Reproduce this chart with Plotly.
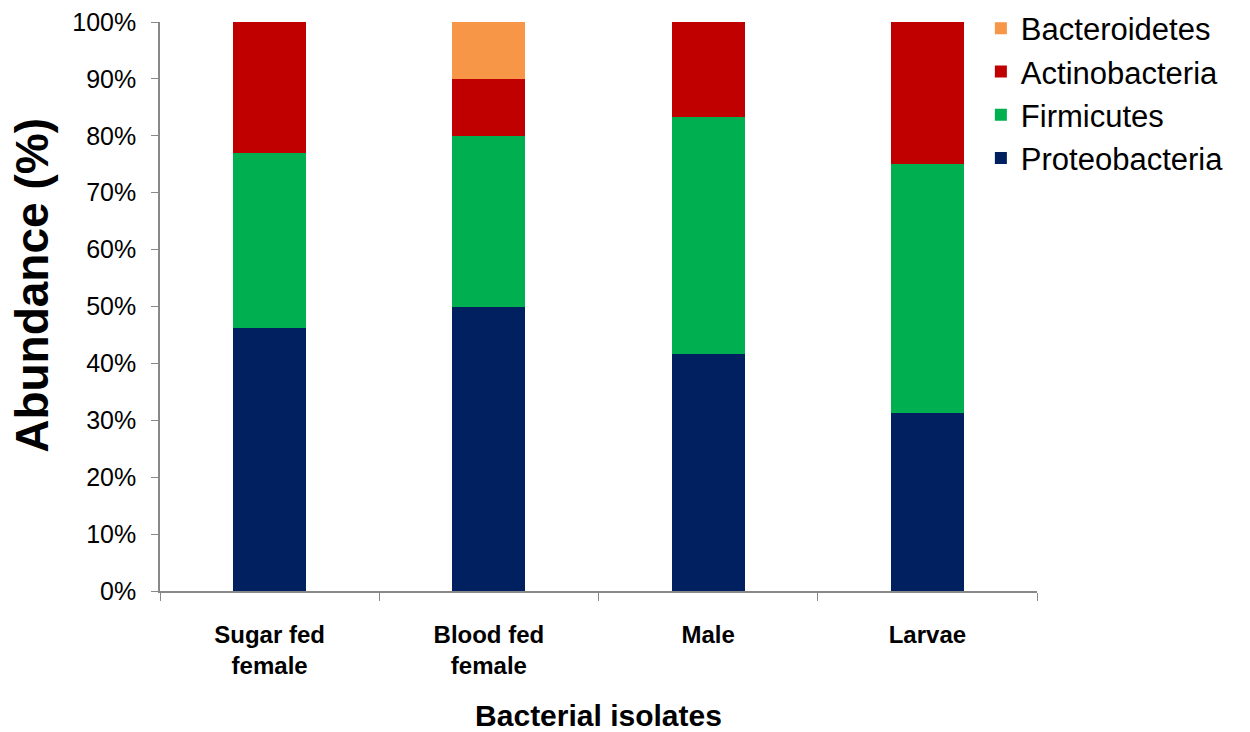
import plotly.graph_objects as go

categories = ["Sugar fed<br>female", "Blood fed<br>female", "Male", "Larvae"]
proteobacteria = [46.15, 50.0, 41.67, 31.25]
firmicutes = [30.77, 30.0, 41.67, 43.75]
actinobacteria = [23.08, 10.0, 16.67, 25.0]
bacteroidetes = [0.0, 10.0, 0.0, 0.0]
y_ticks = [0, 10, 20, 30, 40, 50, 60, 70, 80, 90, 100]
y_tick_labels = [f"{v}%" for v in y_ticks]

series = [
    ("Proteobacteria", proteobacteria, "#002060"),
    ("Firmicutes", firmicutes, "#00B050"),
    ("Actinobacteria", actinobacteria, "#C00000"),
    ("Bacteroidetes", bacteroidetes, "#F79646"),
]

fig = go.Figure()
for name, vals, color in series:
    fig.add_trace(go.Bar(
        x=categories, y=vals, name=name,
        marker=dict(color=color, line=dict(width=0)),
    ))

font_main = "Liberation Sans, Arial, sans-serif"
fig.update_layout(
    barmode="stack",
    bargap=0.667,
    width=1250, height=732,
    margin=dict(l=160, r=213, t=22, b=141, autoexpand=False),
    plot_bgcolor="white", paper_bgcolor="white",
    font=dict(family=font_main, color="black"),
    legend=dict(
        traceorder="reversed",
        x=0.936, xanchor="left", y=1.036, yanchor="top",
        font=dict(size=31, family=font_main),
        itemwidth=30, tracegroupgap=0,
        bgcolor="rgba(0,0,0,0)",
    ),
    xaxis=dict(
        automargin=False,
        tickmode="array",
        tickvals=categories,
        ticktext=[f"<b>{c}</b>" for c in categories],
        tickfont=dict(size=24, family=font_main),
        ticklabelstandoff=21,
        showline=True, linecolor="#888888", linewidth=1.5,
        ticks="outside", tickson="boundaries", ticklen=8, tickcolor="#888888",
        title=dict(text="<b>Bacterial isolates</b>",
                   font=dict(size=30, family=font_main),
                   standoff=40),
        showgrid=False,
    ),
    yaxis=dict(
        automargin=False,
        range=[0, 100],
        tickmode="array", tickvals=y_ticks, ticktext=y_tick_labels,
        tickfont=dict(size=25),
        ticklabelstandoff=10,
        showline=True, linecolor="#888888", linewidth=1.5,
        ticks="outside", ticklen=7, tickcolor="#888888",
        showgrid=False, zeroline=False,
    ),
    annotations=[dict(
        text="<b>Abundance (%)</b>", textangle=-90,
        xref="paper", yref="paper", x=-0.146, y=0.538,
        xanchor="center", yanchor="middle", showarrow=False,
        font=dict(size=46, family=font_main),
    )],
)

fig.write_html("out.html")
